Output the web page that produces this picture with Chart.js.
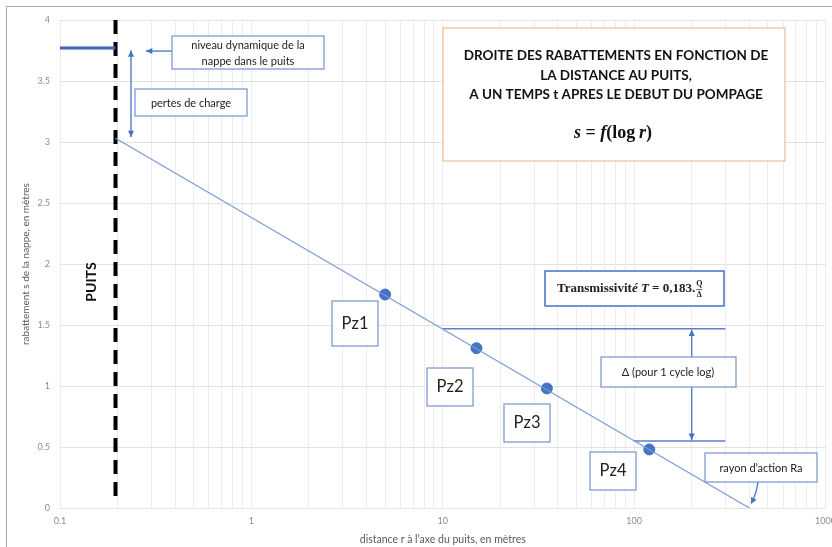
<!DOCTYPE html>
<html>
<head>
<meta charset="utf-8">
<script src="https://cdn.jsdelivr.net/npm/chart.js@4.4.1/dist/chart.umd.min.js"></script>
<style>
  html, body { margin: 0; padding: 0; background: #fff; }
  #frame { position: absolute; left: 6px; top: 6px; width: 826px; height: 541px;
           border-top: 1px solid #a9a9a9; border-left: 1px solid #a9a9a9; }
  #wrap { position: absolute; left: 0; top: 0; width: 832px; height: 547px; }
</style>
</head>
<body>
<div id="frame"></div>
<div id="wrap"><canvas id="chart" width="832" height="547"></canvas></div>
<script>
// axis ticks
const xTickLabels = [0.1, 1, 10, 100, 1000];
const yTickValues = [0, 0.5, 1, 1.5, 2, 2.5, 3, 3.5, 4];

// drawdown line s = f(log r)
const lineR = [0.195, 400];
const lineS = [3.03, 0];

// piezometers
const pzNames = ['Pz1', 'Pz2', 'Pz3', 'Pz4'];
const pzR = [5, 15, 35, 120];
const pzS = [1.75, 1.31, 0.98, 0.48];

// well position and dynamic water level
const wellR = 0.195;
const wellS = [4, 0.05];
const levelR = [0.1, 0.195];
const levelS = 3.77;

// one log cycle (10 -> 100) used for delta
const deltaStartR = [10, 100];
const deltaEndR = 300;
const deltaS = [1.47, 0.55];
const deltaArrowR = 200;

// head losses arrow
const lossR = 0.235;
const lossS = [3.75, 3.04];

const FONT = 'Lato, "Open Sans", sans-serif';
const BLUE = '#4472c4';
const BOX = '#7f9bd0';

// vertical grid: 1..9 for each decade
const gridR = [];
[0.1, 1, 10, 100].forEach(d => {
  for (let k = 1; k <= 9; k++) gridR.push(+(d * k).toPrecision(3));
});
gridR.push(1000);

const seg = (xs, ys) => xs.map((x, i) => ({ x: x, y: ys[i] }));

function arrowHead(ctx, x1, y1, x2, y2, size) {
  const a = Math.atan2(y2 - y1, x2 - x1);
  ctx.beginPath();
  ctx.moveTo(x2, y2);
  ctx.lineTo(x2 - size * Math.cos(a - 0.45), y2 - size * Math.sin(a - 0.45));
  ctx.lineTo(x2 - size * Math.cos(a + 0.45), y2 - size * Math.sin(a + 0.45));
  ctx.closePath();
  ctx.fill();
}

function arrow(ctx, x1, y1, x2, y2, both) {
  ctx.beginPath();
  ctx.moveTo(x1, y1);
  ctx.lineTo(x2, y2);
  ctx.stroke();
  arrowHead(ctx, x1, y1, x2, y2, 7);
  if (both) arrowHead(ctx, x2, y2, x1, y1, 7);
}

function box(ctx, x, y, w, h, color, lw) {
  ctx.fillStyle = '#fff';
  ctx.fillRect(x, y, w, h);
  ctx.strokeStyle = color;
  ctx.lineWidth = lw || 1.3;
  ctx.strokeRect(x, y, w, h);
}

function text(ctx, str, x, y, font, color) {
  ctx.font = font;
  ctx.fillStyle = color || '#222';
  ctx.textAlign = 'center';
  ctx.textBaseline = 'middle';
  ctx.fillText(str, x, y);
}

// draws consecutive [font, text] runs, centred or from a left x
function runs(ctx, parts, x, y, centred) {
  ctx.textAlign = 'left';
  ctx.textBaseline = 'middle';
  let total = 0;
  parts.forEach(p => { ctx.font = p[0]; total += ctx.measureText(p[1]).width; });
  let cx = centred ? x - total / 2 : x;
  parts.forEach(p => { ctx.font = p[0]; ctx.fillText(p[1], cx, y); cx += ctx.measureText(p[1]).width; });
  return cx;
}

// annotation boxes, arrows and labels drawn over the plot
const annotations = {
  id: 'annotations',
  afterDatasetsDraw(chart) {
    const ctx = chart.ctx;
    const xs = chart.scales.x, ys = chart.scales.y;
    const px = v => xs.getPixelForValue(v);
    const py = v => ys.getPixelForValue(v);
    ctx.save();

    // arrows
    ctx.strokeStyle = BLUE;
    ctx.fillStyle = BLUE;
    ctx.lineWidth = 1.3;
    arrow(ctx, px(lossR), py(lossS[1]), px(lossR), py(lossS[0]), true);
    arrow(ctx, 172, py(levelS) + 3, 146, py(levelS) + 3);
    arrow(ctx, px(deltaArrowR), 357, px(deltaArrowR), py(deltaS[0]) + 1);
    arrow(ctx, px(deltaArrowR), 387, px(deltaArrowR), py(deltaS[1]) - 1);
    ctx.beginPath();
    ctx.moveTo(758, 482);
    ctx.quadraticCurveTo(756, 496, 751, 503);
    ctx.stroke();
    arrowHead(ctx, 755, 496, 751, 504, 7);

    // title box
    box(ctx, 443, 28, 342, 133, '#f4c09a', 1.3);
    const tf = 'bold 13.5px ' + FONT;
    text(ctx, 'DROITE DES RABATTEMENTS EN FONCTION DE', 616, 56, tf, '#111');
    text(ctx, 'LA DISTANCE AU PUITS,', 616, 76, tf, '#111');
    text(ctx, 'A UN TEMPS t APRES LE DEBUT DU POMPAGE', 616, 95, tf, '#111');
    ctx.fillStyle = '#111';
    const serif = '"Liberation Serif", serif';
    runs(ctx, [
      ['bold italic 18px ' + serif, 's'],
      ['bold 18px ' + serif, ' = '],
      ['bold italic 18px ' + serif, 'f'],
      ['bold 18px ' + serif, '(log\u2009'],
      ['bold italic 18px ' + serif, 'r'],
      ['bold 18px ' + serif, ')']
    ], 613, 133, true);

    // text boxes
    const sf = '11px ' + FONT;
    box(ctx, 172, 36, 152, 33, BOX);
    text(ctx, 'niveau dynamique de la', 248, 45, sf);
    text(ctx, 'nappe dans le puits', 248, 61, sf);

    box(ctx, 135, 89, 112, 27, BOX);
    text(ctx, 'pertes de charge', 191, 103, sf);

    box(ctx, 601, 357, 135, 30, BOX);
    text(ctx, '\u0394 (pour 1 cycle log)', 668, 372, sf);

    box(ctx, 705, 453, 112, 29, BOX);
    text(ctx, 'rayon d\u2019action Ra', 761, 468, sf);

    // transmissivity box
    box(ctx, 545, 271, 179, 35, BLUE, 1.5);
    ctx.fillStyle = '#222';
    const tx = runs(ctx, [
      ['bold 13px ' + serif, 'Transmissivit'],
      ['bold italic 13px ' + serif, '\u00e9 T'],
      ['bold 13px ' + serif, ' = 0,183.']
    ], 557, 289, false);
    ctx.font = 'bold 8px ' + serif;
    ctx.textAlign = 'center';
    ctx.fillText('Q', tx + 4, 284);
    ctx.fillText('\u0394', tx + 4, 295);
    ctx.strokeStyle = '#222';
    ctx.lineWidth = 0.7;
    ctx.beginPath();
    ctx.moveTo(tx + 1, 289.5);
    ctx.lineTo(tx + 7, 289.5);
    ctx.stroke();

    // piezometer labels
    const pzBoxes = [[332, 301], [427, 368], [504, 404], [590, 452]];
    pzNames.forEach((n, i) => {
      const b = pzBoxes[i];
      box(ctx, b[0], b[1], 46, i === 0 ? 45 : 38, BOX);
      text(ctx, n, b[0] + 23, b[1] + (i === 0 ? 22.5 : 19), '16.5px ' + FONT, '#222');
    });

    // PUITS
    ctx.save();
    ctx.translate(91, 282);
    ctx.rotate(-Math.PI / 2);
    text(ctx, 'PUITS', 0, 0, 'bold 14px ' + FONT, '#111');
    ctx.restore();

    ctx.restore();
  }
};

new Chart(document.getElementById('chart'), {
  type: 'scatter',
  data: {
    datasets: [
      {
        type: 'line',
        data: seg(lineR, lineS),
        borderColor: '#7c9bd3',
        borderWidth: 1.2,
        pointRadius: 0
      },
      {
        type: 'line',
        data: [{ x: deltaStartR[0], y: deltaS[0] }, { x: deltaEndR, y: deltaS[0] }],
        borderColor: '#5a80c8',
        borderWidth: 1.5,
        pointRadius: 0
      },
      {
        type: 'line',
        data: [{ x: deltaStartR[1], y: deltaS[1] }, { x: deltaEndR, y: deltaS[1] }],
        borderColor: '#5a80c8',
        borderWidth: 1.5,
        pointRadius: 0
      },
      {
        type: 'line',
        data: levelR.map(r => ({ x: r, y: levelS })),
        borderColor: '#3d66b5',
        borderWidth: 3,
        pointRadius: 0
      },
      {
        type: 'line',
        data: wellS.map(s => ({ x: wellR, y: s })),
        borderColor: '#000',
        borderWidth: 4,
        borderDash: [14, 8],
        borderCapStyle: 'butt',
        pointRadius: 0
      },
      {
        data: seg(pzR, pzS),
        backgroundColor: BLUE,
        borderColor: BLUE,
        pointRadius: 5.5
      }
    ]
  },
  options: {
    responsive: false,
    animation: false,
    events: [],
    layout: { padding: { left: 12, top: 20, right: 6, bottom: 0 } },
    plugins: { legend: { display: false }, tooltip: { enabled: false } },
    scales: {
      x: {
        type: 'logarithmic',
        min: 0.1,
        max: 1000,
        afterBuildTicks: s => { s.ticks = gridR.map(v => ({ value: v })); },
        afterFit: s => { s.height = 39; s.paddingLeft = 0; s.paddingRight = 0; },
        ticks: {
          autoSkip: false,
          maxRotation: 0,
          padding: 8,
          color: '#8c8c8c',
          font: { family: FONT, size: 9 },
          callback: v => xTickLabels.includes(v) ? String(v) : ''
        },
        grid: { color: '#ececec', drawTicks: false },
        border: { display: false },
        title: {
          display: true,
          text: 'distance r \u00e0 l\u2019axe du puits, en m\u00e8tres',
          color: '#595959',
          font: { family: FONT, size: 10.5 },
          padding: { top: 0, bottom: 1 }
        }
      },
      y: {
        min: 0,
        max: 4,
        afterBuildTicks: s => { s.ticks = yTickValues.map(v => ({ value: v })); },
        afterFit: s => { s.width = 48; s.paddingTop = 0; s.paddingBottom = 0; },
        ticks: {
          padding: 10,
          color: '#8c8c8c',
          font: { family: FONT, size: 9 },
          callback: v => String(v)
        },
        grid: { color: '#e2e2e2', drawTicks: false },
        border: { display: false },
        title: {
          display: true,
          text: 'rabattement s de la nappe, en m\u00e8tres',
          color: '#595959',
          font: { family: FONT, size: 10 },
          padding: { top: 8, bottom: 0 }
        }
      }
    }
  },
  plugins: [annotations]
});
</script>
</body>
</html>
